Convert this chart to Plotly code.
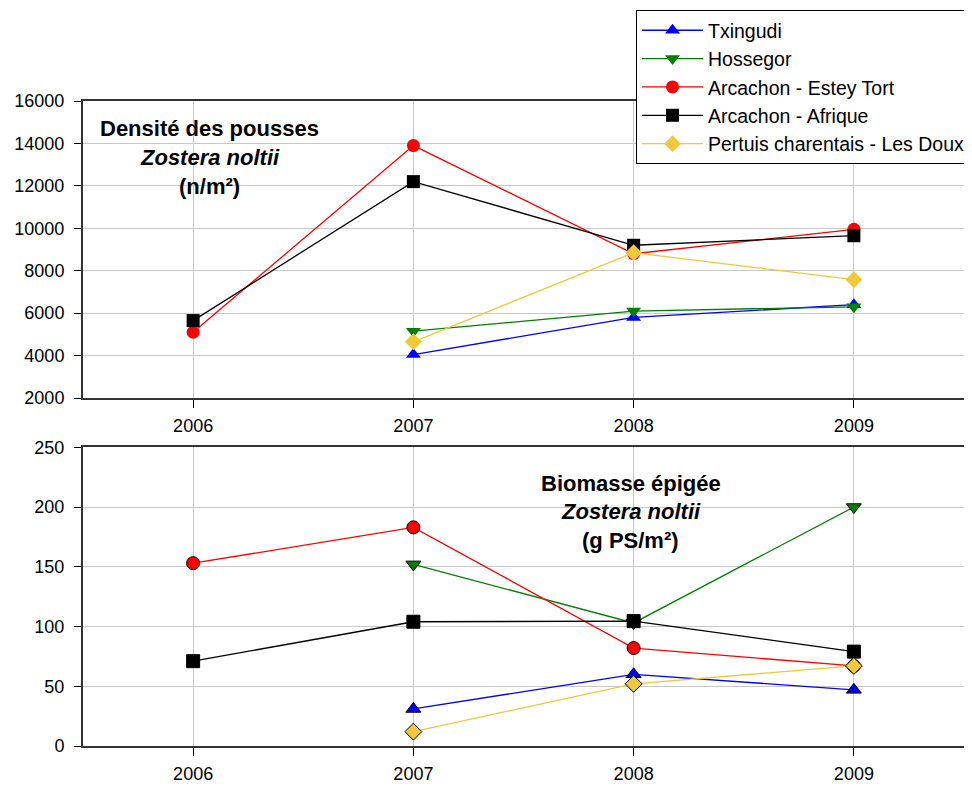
import plotly.graph_objects as go

years = [2006, 2007, 2008, 2009]
year_labels = ["2006", "2007", "2008", "2009"]

series_names = ["Txingudi", "Hossegor", "Arcachon - Estey Tort",
                "Arcachon - Afrique", "Pertuis charentais - Les Doux"]

# Densité des pousses (n/m²)
density_txingudi = [None, 4050, 5800, 6400]
density_hossegor = [None, 5150, 6100, 6300]
density_estey_tort = [5100, 13900, 8800, 9950]
density_afrique = [5650, 12200, 9200, 9650]
density_pertuis = [None, 4650, 8850, 7580]

# Biomasse épigée (g PS/m²)
biomass_txingudi = [None, 31, 60, 47]
biomass_hossegor = [None, 152, 103, 200]
biomass_estey_tort = [153, 183, 82, 67]
biomass_afrique = [71, 104, 104.5, 79]
biomass_pertuis = [None, 12, 52, 67]

density_ticks = [2000, 4000, 6000, 8000, 10000, 12000, 14000, 16000]
biomass_ticks = [0, 50, 100, 150, 200, 250]

colors = ["#0000FF", "#008000", "#FF0000", "#000000", "#F0C83A"]
symbols = ["triangle-up", "triangle-down", "circle", "square", "diamond"]

density = [density_txingudi, density_hossegor, density_estey_tort,
           density_afrique, density_pertuis]
biomass = [biomass_txingudi, biomass_hossegor, biomass_estey_tort,
           biomass_afrique, biomass_pertuis]

fig = go.Figure()

for name, vals, c, s in zip(series_names, density, colors, symbols):
    fig.add_trace(go.Scatter(
        x=years, y=vals, name=name, mode="lines+markers",
        line=dict(color=c, width=1.3),
        marker=dict(symbol=s, size=13, color=c, line=dict(width=0)),
        xaxis="x", yaxis="y", showlegend=True, connectgaps=False,
    ))

for name, vals, c, s in zip(series_names, biomass, colors, symbols):
    fig.add_trace(go.Scatter(
        x=years, y=vals, name=name, mode="lines+markers",
        line=dict(color=c, width=1.3),
        marker=dict(symbol=s, size=13, color=c, line=dict(width=1, color="#000000")),
        xaxis="x2", yaxis="y2", showlegend=False, connectgaps=False,
    ))

FONT = "Liberation Sans, Arial, sans-serif"
GRID = "#C8C8C8"
FRAME = "#333333"

xcommon = dict(
    range=[2005.5, 2009.5], tickvals=years, ticktext=year_labels,
    showgrid=True, gridcolor=GRID, gridwidth=1,
    showline=True, linecolor=FRAME, linewidth=2, mirror=True,
    ticks="outside", ticklen=8, tickcolor="#000000", tickwidth=1,
    tickfont=dict(family=FONT, size=18, color="#000000"),
    zeroline=False, fixedrange=True, ticklabelstandoff=2,
)
ycommon = dict(
    showgrid=True, gridcolor=GRID, gridwidth=1,
    showline=True, linecolor=FRAME, linewidth=2, mirror=True,
    ticks="outside", ticklen=7, tickcolor="#000000", tickwidth=1,
    tickfont=dict(family=FONT, size=18, color="#000000"),
    zeroline=False, ticklabelstandoff=6,
)

# page body has an 8px margin: the figure starts at (8, 8) in the window
fig.update_layout(
    width=972, height=778,
    margin=dict(l=75, r=16, t=93, b=40, autoexpand=False),
    paper_bgcolor="white", plot_bgcolor="white",
    font=dict(family=FONT, color="#000000"),
    xaxis=dict(domain=[0, 1], anchor="y", **xcommon),
    yaxis=dict(domain=[0.5395, 1], anchor="x", range=[2000, 16000],
               tickvals=density_ticks, ticktext=[str(v) for v in density_ticks],
               **ycommon),
    xaxis2=dict(domain=[0, 1], anchor="y2", **xcommon),
    yaxis2=dict(domain=[0, 0.4631], anchor="x2", range=[0, 250],
                tickvals=biomass_ticks, ticktext=[str(v) for v in biomass_ticks],
                **ycommon),
    legend=dict(
        x=0.6277, y=1.141, xanchor="left", yanchor="top",
        xref="paper", yref="paper",
        bgcolor="white", bordercolor="#000000", borderwidth=1,
        font=dict(family=FONT, size=19.5, color="#000000"),
        itemwidth=61, tracegroupgap=0,
    ),
    showlegend=True,
)

ann_font_b = dict(family=FONT, size=22, color="#000000")
annotations = [
    dict(text="<b>Densité des pousses</b>", x=0.144, y=0.906, xref="x domain", yref="y domain"),
    dict(text="<b><i>Zostera noltii</i></b>", x=0.144, y=0.81, xref="x domain", yref="y domain"),
    dict(text="<b>(n/m²)</b>", x=0.144, y=0.713, xref="x domain", yref="y domain"),
    dict(text="<b>Biomasse épigée</b>", x=0.622, y=0.88, xref="x2 domain", yref="y2 domain"),
    dict(text="<b><i>Zostera noltii</i></b>", x=0.622, y=0.786, xref="x2 domain", yref="y2 domain"),
    dict(text="<b>(g PS/m²)</b>", x=0.622, y=0.689, xref="x2 domain", yref="y2 domain"),
]
for a in annotations:
    fig.add_annotation(showarrow=False, xanchor="center", yanchor="middle",
                       font=ann_font_b, **a)

fig.write_html("out.html")
